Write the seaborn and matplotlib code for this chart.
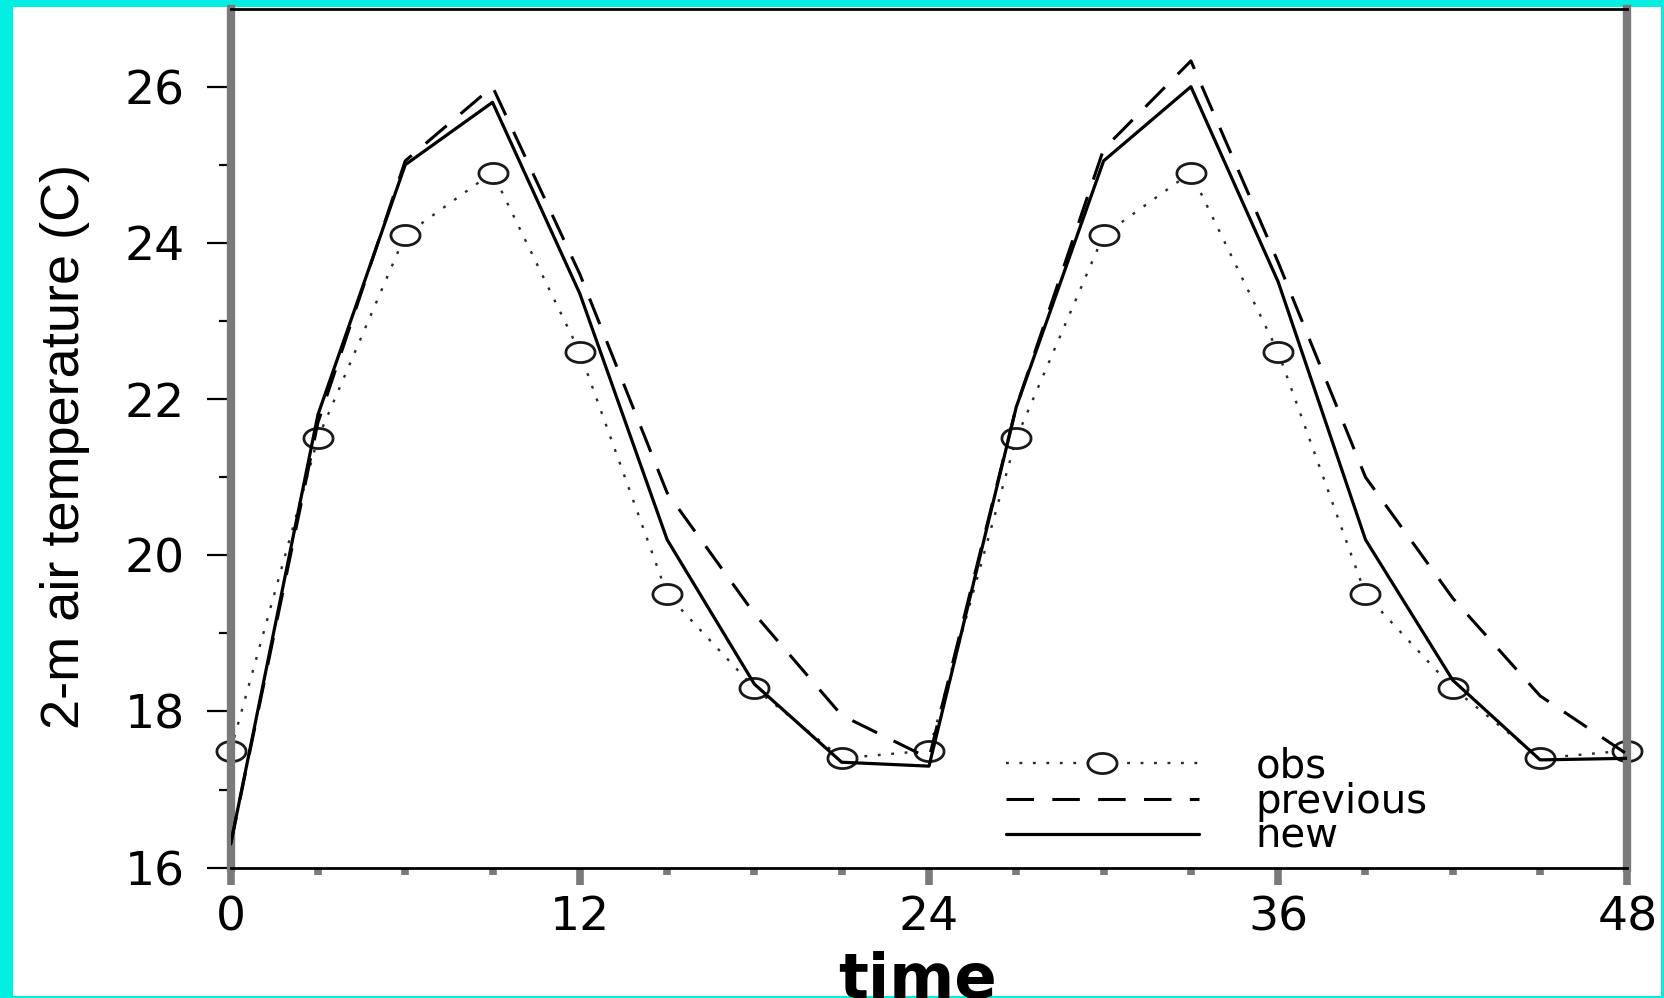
import numpy as np
import pandas as pd
import seaborn as sns
import matplotlib.pyplot as plt
from matplotlib import font_manager
from matplotlib.patches import Rectangle

# values (3-hourly, two days)
hours = [0, 3, 6, 9, 12, 15, 18, 21, 24, 27, 30, 33, 36, 39, 42, 45, 48]
obs_temp = [17.5, 21.5, 24.1, 24.9, 22.6, 19.5, 18.3, 17.4, 17.5,
            21.5, 24.1, 24.9, 22.6, 19.5, 18.3, 17.4, 17.5]
previous_temp = [16.3, 21.7, 25.05, 26.0, 23.6, 20.8, 19.25, 17.95, 17.4,
                 21.9, 25.2, 26.33, 23.75, 21.0, 19.45, 18.2, 17.45]
new_temp = [16.3, 21.8, 25.0, 25.8, 23.35, 20.2, 18.35, 17.35, 17.3,
            21.9, 25.05, 26.0, 23.5, 20.2, 18.4, 17.38, 17.4]
series_names = ['obs', 'previous', 'new']
x_ticks = [0, 12, 24, 36, 48]
y_ticks = [16, 18, 20, 22, 24, 26]

df = pd.DataFrame({'time': hours, 'obs': obs_temp,
                   'previous': previous_temp, 'new': new_temp})

sns.set_style('ticks')
plt.rcParams['font.family'] = ['DejaVu Sans']
plt.rcParams['text.color'] = 'black'
plt.rcParams['axes.labelcolor'] = 'black'

fig = plt.figure(figsize=(16.64, 9.98), dpi=100, facecolor='#04EEE2')
# white page inside the cyan frame
page = Rectangle((13 / 1664, 2 / 998), (1661 - 13) / 1664, (991 - 2) / 998,
                 transform=fig.transFigure, facecolor='white',
                 edgecolor='none', zorder=-10)
fig.add_artist(page)

ax = fig.add_axes([0.1386, 0.1306, 0.8394, 0.8608])
ax.set_facecolor('white')

# open, slightly wide circle marker
theta = np.linspace(0, 2 * np.pi, 60)
ellipse = np.column_stack([1.45 * np.cos(theta), np.sin(theta)])

sns.lineplot(data=df, x='time', y='obs', ax=ax, color='#2a2a2a', linewidth=1.7,
             marker=ellipse, markersize=21, markerfacecolor='white',
             markeredgecolor='#1a1a1a', markeredgewidth=2, zorder=2)
ax.lines[-1].set_dashes([1.2, 4.5])
ax.lines[-1].set_clip_on(False)
sns.lineplot(data=df, x='time', y='previous', ax=ax, color='black',
             linewidth=2.2, zorder=3)
ax.lines[-1].set_dashes([9, 6])
sns.lineplot(data=df, x='time', y='new', ax=ax, color='black',
             linewidth=2.3, zorder=4)

ax.set_xlim(0, 48)
ax.set_ylim(16, 27)
ax.set_xticks(x_ticks)
ax.set_xticks(range(0, 49, 3), minor=True)
ax.set_yticks(y_ticks)
ax.set_yticks([17, 19, 21, 23, 25], minor=True)

ax.tick_params(axis='y', which='major', direction='out', length=17, width=1.6,
               color='black', labelcolor='black', pad=16, labelsize=34)
ax.tick_params(axis='y', which='minor', direction='out', length=9, width=1.6,
               color='black')
ax.tick_params(axis='x', which='major', direction='out', length=12, width=5.5,
               color='#7a7a7a', labelcolor='black', pad=8, labelsize=34)
ax.tick_params(axis='x', which='minor', direction='out', length=5, width=5.5,
               color='#7a7a7a')

for side in ['left', 'right']:
    ax.spines[side].set_color('#7a7a7a')
    ax.spines[side].set_linewidth(6)
for side in ['top', 'bottom']:
    ax.spines[side].set_color('black')
    ax.spines[side].set_linewidth(2)

installed = {f.name for f in font_manager.fontManager.ttflist}
if 'Liberation Sans Narrow' in installed:
    ax.set_ylabel('2-m air temperature (C)', fontsize=47,
                  family=['Liberation Sans Narrow', 'DejaVu Sans'])
else:
    ax.set_ylabel('2-m air temperature (C)', fontsize=39,
                  family=['Liberation Sans', 'DejaVu Sans'])
ax.yaxis.set_label_coords(-0.101, 0.49)

ax.set_xlabel('time', fontsize=45, fontweight='bold')
ax.xaxis.set_label_coords(0.492, -0.097)

ax.legend(ax.lines[:3], series_names, loc='upper left',
          bbox_to_anchor=(0.555, 0.141), frameon=False, fontsize=29,
          handlelength=4.8, handletextpad=1.4, labelspacing=-0.12,
          borderpad=0, borderaxespad=0)

fig.savefig('out.png', dpi=100, facecolor=fig.get_facecolor())
